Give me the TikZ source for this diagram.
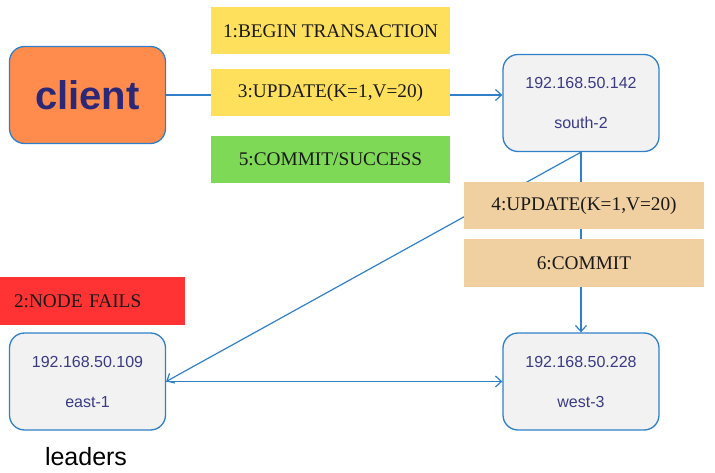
\documentclass[tikz,border=0pt]{standalone}
\usepackage{fontspec}
\setmainfont{Liberation Serif}
\setsansfont{Liberation Sans}
\usetikzlibrary{arrows.meta}
\definecolor{lblue}{HTML}{2F80C8}
\definecolor{navy}{HTML}{3A3A85}
\definecolor{cnavy}{HTML}{2B2878}
\definecolor{corange}{HTML}{FF8C4C}
\definecolor{cyellow}{HTML}{FFE05C}
\definecolor{cgreen}{HTML}{7ED957}
\definecolor{ctan}{HTML}{F0CFA1}
\definecolor{cred}{HTML}{FF3333}
\definecolor{cgray}{HTML}{F2F2F2}
\tikzset{
  server/.style={draw=lblue, line width=1.3pt, fill=cgray, rounded corners=15pt,
    minimum width=156pt, minimum height=97pt, inner sep=0pt, align=center,
    text=navy, font=\sffamily\fontsize{16}{40}\selectfont},
  msg/.style={minimum width=239pt, minimum height=47pt, inner sep=0pt,
    font=\fontsize{19.3}{21}\selectfont, text=black!90},
  conn/.style={draw=lblue, line width=1.2pt, -{Straight Barb[length=6pt,width=11pt,line width=1.2pt]}},
}
\begin{document}
\begin{tikzpicture}[x=1pt,y=-1pt]
\useasboundingbox (0,0) rectangle (715,473);
\node[draw=lblue, line width=1.3pt, fill=corange, rounded corners=15pt,
  minimum width=156pt, minimum height=97pt, inner sep=0pt,
  text=cnavy, font=\sffamily\bfseries\fontsize{40}{44}\selectfont] (client) at (87.5,95) {client};
\node[server] (s2) at (581,103) {192.168.50.142\\south-2};
\node[server] (e1) at (87.5,381.5) {192.168.50.109\\east-1};
\node[server] (w3) at (581,381.5) {192.168.50.228\\west-3};
\draw[conn] (client.east) -- (client.east -| s2.west);
\draw[conn] (s2.south) -- (w3.north);
\draw[conn] (s2.south) -- (e1.east);
\draw[conn] (e1.east) -- (w3.west);
\node[msg, fill=cyellow] (m1) at (330.5,31) {1:BEGIN TRANSACTION};
\node[msg, fill=cyellow] (m3) at (330.5,92.5) {3:UPDATE(K=1,V=20)};
\node[msg, fill=cgreen] (m5) at (330.5,159.5) {5:COMMIT/SUCCESS};
\node[msg, fill=ctan, minimum width=240pt] (m4) at (584,205.5) {4:UPDATE(K=1,V=20)};
\node[msg, fill=ctan, minimum width=240pt, minimum height=48pt] (m6) at (584,263) {6:COMMIT};
\node[msg, fill=cred, minimum width=185pt, minimum height=48pt, text width=157pt, align=left] (m2) at (92.5,301) {2:NODE FAILS};
\node[font=\sffamily\fontsize{25}{28}\selectfont, inner sep=0pt] (lead) at (86,457) {leaders};
\end{tikzpicture}
\end{document}
